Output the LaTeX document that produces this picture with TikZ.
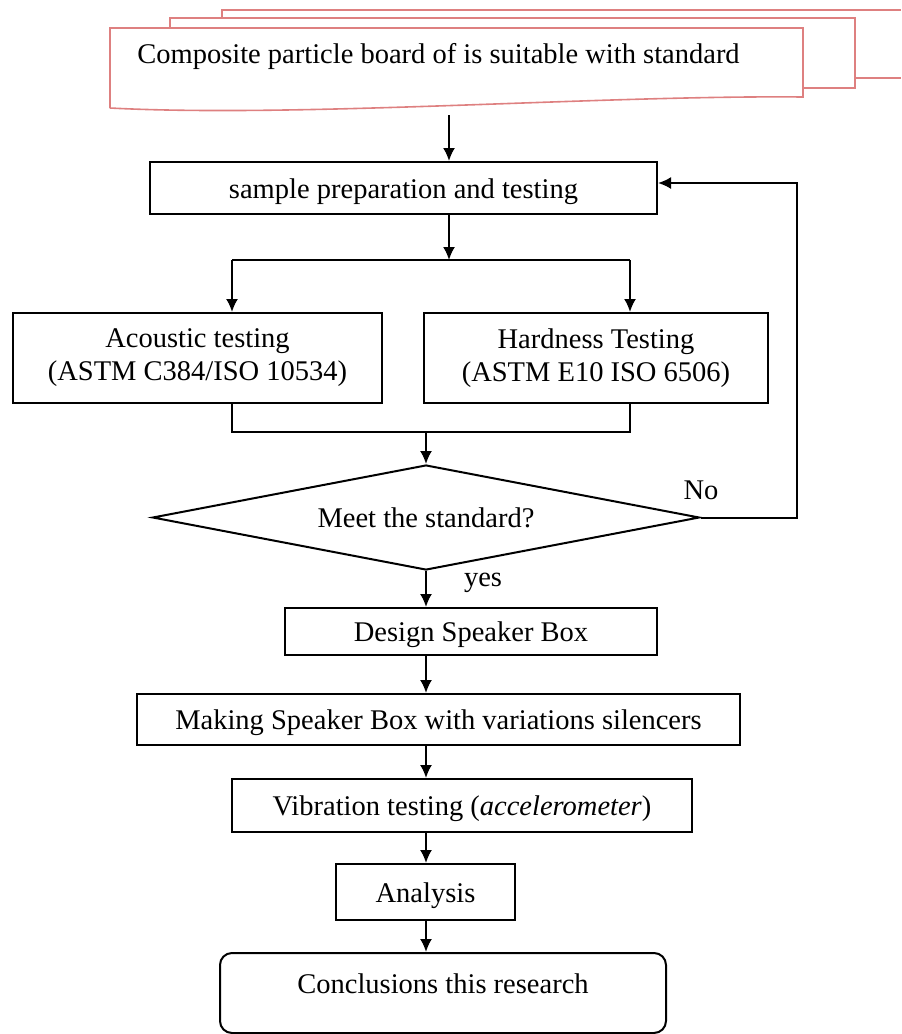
\documentclass[tikz,border=0pt]{standalone}
\usepackage{fontspec}
\setmainfont{Liberation Serif}
\usepackage{xcolor}
\usepackage{tikz}
\usetikzlibrary{arrows.meta,positioning,shapes.geometric}

\definecolor{docpink}{RGB}{222,128,128}

\begin{document}
\begin{tikzpicture}[x=0.5pt, y=-0.5pt, font=\fontsize{14.25}{16.5}\selectfont]
    \tikzstyle{process} = [rectangle, draw, line width=1pt, inner sep=0pt, align=center]
    \tikzstyle{oneline} = [process, text height=11pt, text depth=1pt]
    \tikzstyle{decision} = [diamond, draw, line width=1pt, aspect=5.2, inner sep=0pt, minimum width=273.5pt, minimum height=52.5pt]
    \tikzstyle{terminal} = [rectangle, draw, line width=1pt, rounded corners=6pt, inner sep=0pt, minimum width=223pt, text height=20pt, text depth=20pt]
    \tikzstyle{docline} = [draw=docpink, line width=0.8pt]
    \tikzstyle{line} = [draw, line width=1pt]
    \tikzstyle{arrow} = [line, -{Latex[length=6.5pt,width=6pt]}]

    \useasboundingbox (0,0) rectangle (901,1034);

    % Documents
    \draw[docline] (222,18) -- (222,10) -- (901,10);
    \draw[docline] (855,78) -- (901,78);
    \draw[docline] (170,28) -- (170,18) -- (855,18) -- (855,88) -- (803,88);
    \draw[docline] (110,108) -- (110,28) -- (803,28) -- (803,97)
        .. controls (600,95) and (300,118) .. (110,108);
    \node (board) at (438.5,56) {Composite particle board of is suitable with standard};
    \coordinate (docbottom) at (449,115);

    % Testing
    \node [oneline, minimum width=253.5pt, minimum height=26pt] (sample) at (403.5,188) {sample preparation and testing};
    \node [process, minimum width=184.5pt, minimum height=45pt] (acoustic) at (197.5,358) {Acoustic testing\\(ASTM C384/ISO 10534)};
    \node [process, minimum width=172pt, minimum height=45pt] (hardness) at (596,358) {Hardness Testing\\(ASTM E10 ISO 6506)};
    \coordinate (split) at (449,260);
    \coordinate (splitL) at (232,260);
    \coordinate (splitR) at (630,260);
    \coordinate (joinL) at (232,432);
    \coordinate (joinR) at (630,432);

    % Decision
    \node [decision] (check) at (426,517.5) {Meet the standard?};
    \node (no) at (701,490) {No};
    \node (yes) at (483,583) {yes};
    \coordinate (loop) at (797,183);

    % Speaker box
    \node [oneline, minimum width=186pt, minimum height=23.5pt] (design) at (471,631.5) {Design Speaker Box};
    \node [oneline, minimum width=301.5pt, minimum height=25.5pt] (making) at (438.5,719.5) {Making Speaker Box with variations silencers};
    \node [oneline, minimum width=230pt, minimum height=26.5pt] (vibration) at (462,805.5) {Vibration testing (\textit{accelerometer})};
    \node [oneline, minimum width=89.5pt, minimum height=28pt] (analysis) at (425.5,892) {Analysis};
    \node [terminal] (conclusion) at (443,952) [anchor=north] {Conclusions this research};

    % Connections
    \draw[arrow] (docbottom) -- (docbottom |- sample.north);
    \draw[arrow] (sample.south -| split) -- (split);
    \draw[line] (splitL) -- (splitR);
    \draw[arrow] (splitL) -- (splitL |- acoustic.north);
    \draw[arrow] (splitR) -- (splitR |- hardness.north);
    \draw[line] (acoustic.south -| joinL) -- (joinL) -- (joinR) -- (hardness.south -| joinR);
    \draw[arrow] (check.north |- joinL) -- (check.north);
    \draw[arrow] (check.east) -- (check.east -| loop) -- (loop) -- (loop -| sample.east);
    \draw[arrow] (check.south) -- (check.south |- design.north);
    \draw[arrow] (check.south |- design.south) -- (check.south |- making.north);
    \draw[arrow] (check.south |- making.south) -- (check.south |- vibration.north);
    \draw[arrow] (check.south |- vibration.south) -- (check.south |- analysis.north);
    \draw[arrow] (check.south |- analysis.south) -- (check.south |- conclusion.north);
\end{tikzpicture}
\end{document}
